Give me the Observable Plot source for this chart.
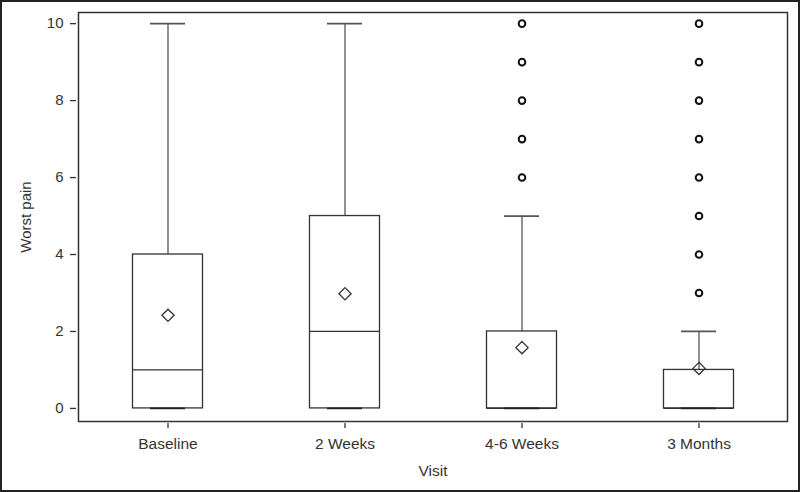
<!DOCTYPE html>
<html>
<head>
<meta charset="utf-8">
<script src="https://cdn.jsdelivr.net/npm/d3@7"></script>
<script src="https://cdn.jsdelivr.net/npm/@observablehq/plot@0.6"></script>
<style>
  html, body { margin: 0; padding: 0; background: #fff; }
  #chart svg { display: block; outline: 2px solid #222; outline-offset: -2px; }
</style>
</head>
<body>
<div id="chart"></div>
<script>
const visits = ["Baseline", "2 Weeks", "4-6 Weeks", "3 Months"];
const q1 = [0, 0, 0, 0];
const medians = [1, 2, 0, 0];
const q3 = [4, 5, 2, 1];
const whiskerLow = [0, 0, 0, 0];
const whiskerHigh = [10, 10, 5, 2];
const means = [2.42, 2.98, 1.58, 1.04];
const outlierVisit = ["4-6 Weeks","4-6 Weeks","4-6 Weeks","4-6 Weeks","4-6 Weeks",
  "3 Months","3 Months","3 Months","3 Months","3 Months","3 Months","3 Months","3 Months"];
const outlierValue = [6, 7, 8, 9, 10, 3, 4, 5, 6, 7, 8, 9, 10];
const yTicks = [0, 2, 4, 6, 8, 10];

const boxes = visits.map((v, i) => ({
  visit: v, q1: q1[i], median: medians[i], q3: q3[i],
  lo: whiskerLow[i], hi: whiskerHigh[i], mean: means[i]
}));
const outliers = outlierVisit.map((v, i) => ({visit: v, value: outlierValue[i]}));

const ink = "#333";
const chart = Plot.plot({
  width: 800,
  height: 492,
  marginLeft: 78,
  marginRight: 13,
  marginTop: 12,
  marginBottom: 71,
  style: {fontFamily: "'Liberation Sans', Arial, sans-serif", fontSize: "15.5px", color: ink, background: "#fff"},
  x: {type: "band", domain: visits, padding: 0},
  y: {domain: [-0.34, 10.29]},
  marks: [
    Plot.frame({stroke: ink, strokeWidth: 1.5}),
    Plot.axisY(yTicks, {tickSize: 6, dx: -2, tickPadding: 7, stroke: ink, strokeWidth: 1.3,
      label: "Worst pain", labelAnchor: "center", labelArrow: "none", labelOffset: 58, fontSize: 15}),
    Plot.axisX({tickSize: 5, dy: 2, tickPadding: 9, stroke: ink, strokeWidth: 1.3,
      label: "Visit", labelAnchor: "center", labelArrow: "none", labelOffset: 54, fontSize: 15.5}),
    Plot.ruleX(boxes, {x: "visit", y1: "q3", y2: "hi", stroke: "#555", strokeWidth: 1.3}),
    Plot.barY(boxes, {x: "visit", y1: "q1", y2: "q3", fill: "none", stroke: ink, strokeWidth: 1.3,
      insetLeft: 53.5, insetRight: 53.5}),
    Plot.tickY(boxes, {x: "visit", y: "median", stroke: ink, strokeWidth: 1.3, insetLeft: 53.5, insetRight: 53.5}),
    Plot.tickY(boxes, {x: "visit", y: "hi", stroke: "#555", strokeWidth: 1.8, insetLeft: 71, insetRight: 71}),
    Plot.tickY(boxes, {x: "visit", y: "lo", stroke: "#222", strokeWidth: 1.8, insetLeft: 71, insetRight: 71}),
    Plot.dot(boxes, {x: "visit", y: "mean", symbol: "diamond2", r: 5.5, fill: "none", stroke: ink, strokeWidth: 1.3}),
    Plot.dot(outliers, {x: "visit", y: "value", r: 3.3, fill: "none", stroke: "#111", strokeWidth: 2})
  ]
});
document.getElementById("chart").append(chart);
</script>
</body>
</html>
